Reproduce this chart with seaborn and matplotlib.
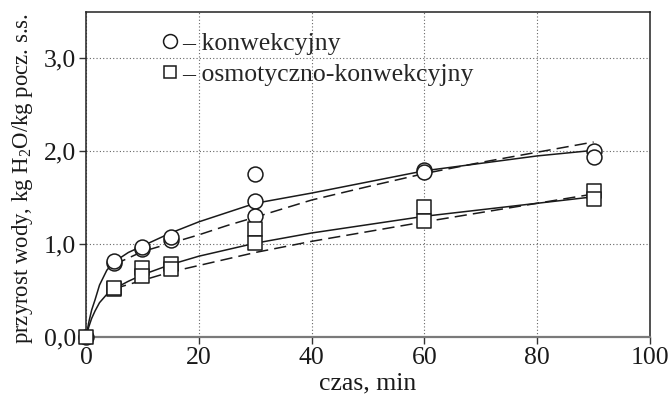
import matplotlib
matplotlib.use("Agg")
import matplotlib.pyplot as plt
from matplotlib.lines import Line2D
import numpy as np
import pandas as pd
import seaborn as sns

# --- measured points -------------------------------------------------------
t_konw = [0, 5, 5, 10, 10, 15, 15, 30, 30, 30, 60, 60, 90, 90]
y_konw = [0.00, 0.80, 0.82, 0.95, 0.97, 1.04, 1.08, 1.76, 1.46, 1.30, 1.80, 1.78, 2.00, 1.94]

t_osm = [0, 5, 5, 10, 10, 15, 15, 30, 30, 60, 60, 90, 90]
y_osm = [0.00, 0.52, 0.53, 0.74, 0.66, 0.79, 0.73, 1.16, 1.01, 1.40, 1.25, 1.57, 1.49]

# --- fitted curves ---------------------------------------------------------
t_fit_solid = [0, 0.5, 1, 1.6, 2.4, 3.7, 5, 7.5, 10, 15, 20, 30, 40, 50, 60, 70, 80, 90]
y_konw_solid = [0.00, 0.16, 0.29, 0.40, 0.56, 0.72, 0.81, 0.91, 0.98, 1.12, 1.24, 1.44, 1.55, 1.67, 1.79, 1.87, 1.95, 2.01]
y_osm_solid = [0.00, 0.11, 0.20, 0.28, 0.37, 0.46, 0.52, 0.60, 0.67, 0.78, 0.87, 1.01, 1.12, 1.21, 1.30, 1.37, 1.44, 1.51]

t_fit_dash = [5, 10, 15, 20, 25, 30, 40, 50, 60, 70, 80, 90]
y_konw_dash = [0.78, 0.92, 1.01, 1.10, 1.20, 1.29, 1.475, 1.62, 1.76, 1.88, 1.99, 2.10]
y_osm_dash = [0.52, 0.61, 0.70, 0.77, 0.84, 0.91, 1.03, 1.135, 1.24, 1.34, 1.44, 1.54]

x_ticks = [0, 20, 40, 60, 80, 100]
y_ticks = [0.0, 1.0, 2.0, 3.0]
y_tick_labels = ["0,0", "1,0", "2,0", "3,0"]

label_konw = "konwekcyjny"
label_osm = "osmotyczno-konwekcyjny"

sns.set_style("white")
plt.rcParams["font.family"] = ["Liberation Serif", "DejaVu Serif"]
plt.rcParams["mathtext.fontset"] = "custom"
plt.rcParams["mathtext.rm"] = "Liberation Serif"
plt.rcParams["mathtext.it"] = "Liberation Serif:italic"

FS = 18.5
INK = "#1a1a1a"

fig = plt.figure(figsize=(6.72, 3.96), dpi=100)
ax = fig.add_axes([86 / 672, 1 - 337 / 396, (650 - 86) / 672, (337 - 12) / 396])

curves = pd.DataFrame({
    "t": t_fit_solid * 2 + t_fit_dash * 2,
    "y": y_konw_solid + y_osm_solid + y_konw_dash + y_osm_dash,
    "curve": (["ks"] * len(t_fit_solid) + ["os"] * len(t_fit_solid)
              + ["kd"] * len(t_fit_dash) + ["od"] * len(t_fit_dash)),
})

for key, style in [("ks", "-"), ("os", "-"), ("kd", "--"), ("od", "--")]:
    sub = curves[curves["curve"] == key]
    line_kw = dict(color=INK, lw=1.1, zorder=2)
    if style == "--":
        line_kw["dashes"] = (8, 4)
    sns.lineplot(data=sub, x="t", y="y", estimator=None, sort=False,
                 ax=ax, legend=False, **line_kw)

pts_k = pd.DataFrame({"t": t_konw, "y": y_konw})
pts_o = pd.DataFrame({"t": t_osm, "y": y_osm})
sns.scatterplot(data=pts_k, x="t", y="y", marker="o", s=115, facecolor="white",
                edgecolor=INK, linewidth=1.1, ax=ax, zorder=4, clip_on=False)
sns.scatterplot(data=pts_o, x="t", y="y", marker="s", s=90, facecolor="white",
                edgecolor=INK, linewidth=1.1, ax=ax, zorder=5, clip_on=False)

ax.set_xlim(0, 100)
ax.set_ylim(0, 3.5)
ax.set_xticks(x_ticks)
ax.set_xticklabels([str(v) for v in x_ticks])
ax.set_yticks(y_ticks)
ax.set_yticklabels(y_tick_labels)

ax.grid(True, linestyle=(0, (1, 2)), color="#666666", lw=0.8)
ax.set_axisbelow(True)

for side in ["top", "right", "left"]:
    ax.spines[side].set_color("#222222")
    ax.spines[side].set_linewidth(1.1)
ax.spines["bottom"].set_color("#7a7a7a")
ax.spines["bottom"].set_linewidth(1.6)

ax.tick_params(axis="both", direction="out", length=5, width=1.0,
               color="#333333", labelsize=FS, pad=2, labelcolor=INK,
               bottom=True, left=True)

ax.set_xlabel("czas, min", fontsize=FS, labelpad=2.5, color=INK)
ax.set_ylabel("przyrost wody, kg H$_2$O/kg pocz. s.s.", fontsize=16.4,
              color=INK)
ax.yaxis.set_label_coords(-0.09, 0.489)

handles = [
    Line2D([], [], marker="o", ls="none", markersize=10, markerfacecolor="white",
           markeredgecolor=INK, markeredgewidth=1.1),
    Line2D([], [], marker="s", ls="none", markersize=8.5, markerfacecolor="white",
           markeredgecolor=INK, markeredgewidth=1.1),
]
ax.legend(handles, ["– " + label_konw, "– " + label_osm], loc="upper left",
          bbox_to_anchor=(0.114, 0.97), frameon=False, fontsize=FS,
          handlelength=0.7, handletextpad=0.15, labelspacing=0.32,
          borderaxespad=0)

fig.savefig("out.png", dpi=100)
